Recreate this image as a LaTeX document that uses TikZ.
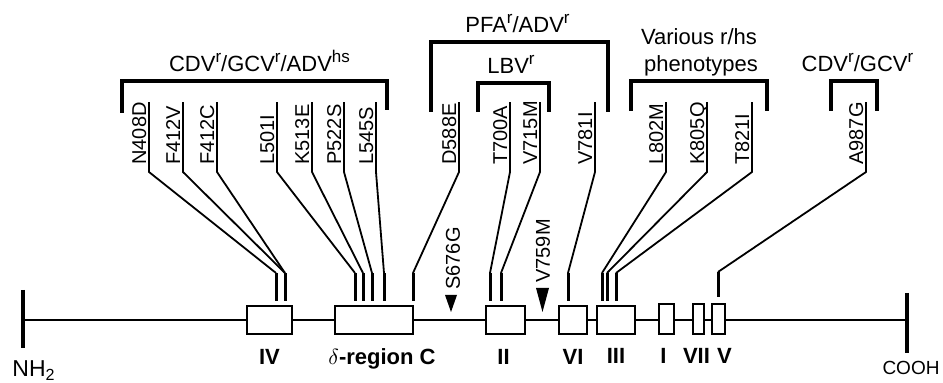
\documentclass[tikz,border=0pt]{standalone}
\usepackage{fontspec}
\setmainfont{Liberation Sans}
\usetikzlibrary{positioning}
\newcommand{\phensup}[1]{\raisebox{.45em}{\fontsize{8.5}{10}\selectfont #1}}
\tikzset{
  mut/.style={
    rotate=90,
    anchor=south west,
    inner xsep=0pt,
    inner ysep=1.2pt,
    text width=31pt,
    align=left,
    text depth=0pt,
    font=\fontsize{10}{12}\selectfont
  },
  tag/.style={
    rotate=90,
    anchor=west,
    inner sep=0pt,
    font=\fontsize{10}{12}\selectfont
  },
  dom/.style={
    draw,
    fill=white,
    line width=.85pt,
    inner sep=0pt,
    minimum height=14pt
  },
  domname/.style={
    inner sep=0pt,
    text height=8pt,
    text depth=2.5pt,
    font=\fontsize{11}{13}\selectfont\bfseries
  },
  grupo/.style={
    anchor=base,
    inner sep=0pt,
    font=\fontsize{11}{13}\selectfont
  },
  bracket/.style={line width=1.7pt},
  link/.style={line width=.9pt},
  stemline/.style={line width=1.5pt, shorten >=2pt},
  backbone/.style={line width=.85pt},
  endbar/.style={line width=1.6pt}
}

\begin{document}
\begin{tikzpicture}[x=.5pt, y=-.5pt]
\useasboundingbox (0,0) rectangle (943,383);

% backbone and termini
\coordinate (nterm) at (23,320);
\coordinate (cterm) at (907,320);
\draw[backbone] (nterm) -- (cterm);
\draw[endbar] ([yshift=15pt]nterm) -- ([yshift=-14pt]nterm);
\draw[endbar] ([yshift=13.5pt]cterm) -- ([yshift=-16.5pt]cterm);
\node[anchor=base, inner sep=0pt, font=\fontsize{11.5}{13}\selectfont] (nh2) at (34,377) {NH\textsubscript{2}};
\node[anchor=base, inner sep=0pt, font=\fontsize{9.5}{11}\selectfont] (cooh) at (911,375) {COOH};

% conserved regions
\node[dom, minimum width=22.5pt] (IV) at (269.5,320) {};
\node[dom, minimum width=39pt] (dreg) at (374,320) {};
\node[dom, minimum width=19.5pt] (II) at (505.5,320) {};
\node[dom, minimum width=14pt] (VI) at (573,320) {};
\node[dom, minimum width=19pt] (III) at (616,320) {};
\node[dom, minimum width=7.5pt, minimum height=15pt] (I) at (666.5,319) {};
\node[dom, minimum width=5.5pt, minimum height=15pt] (VII) at (698.5,319) {};
\node[dom, minimum width=6.5pt, minimum height=15pt] (V) at (718.5,319) {};

\node[domname, below=6.5pt of IV] {IV};
\node[domname, below=6.5pt of dreg, xshift=4pt] {$\delta$-region C};
\node[domname, below=6.5pt of II, xshift=-1pt] {II};
\node[domname, below=6.5pt of VI] {VI};
\node[domname, below=6pt of III] {III};
\node[domname, below=6pt of I, xshift=-1.5pt] {I};
\node[domname, below=6pt of VII, xshift=-1pt] {VII};
\node[domname, below=6pt of V, xshift=3pt] {V};

% stems
\coordinate (s408) at (276,273);
\coordinate (s412) at (285,273);
\coordinate (s501) at (355,273);
\coordinate (s513) at (363,273);
\coordinate (s522) at (372,273);
\coordinate (s545) at (384,273);
\coordinate (s588) at (413,273);
\coordinate (s700) at (490,273);
\coordinate (s715) at (501,273);
\coordinate (s781) at (568,273);
\coordinate (s802) at (602,273);
\coordinate (s805) at (607,273);
\coordinate (s821) at (616,273);
\coordinate (s987) at (718,272);

\draw[stemline] (s408) -- (s408 |- IV.north);
\draw[stemline] (s412) -- (s412 |- IV.north);
\draw[stemline] (s501) -- (s501 |- dreg.north);
\draw[stemline] (s513) -- (s513 |- dreg.north);
\draw[stemline] (s522) -- (s522 |- dreg.north);
\draw[stemline] (s545) -- (s545 |- dreg.north);
\draw[stemline] (s588) -- (s588 |- dreg.north);
\draw[stemline] (s700) -- (s700 |- II.north);
\draw[stemline] (s715) -- (s715 |- II.north);
\draw[stemline] (s781) -- (s781 |- VI.north);
\draw[stemline] (s802) -- (s802 |- III.north);
\draw[stemline] (s805) -- (s805 |- III.north);
\draw[stemline] (s821) -- (s821 |- III.north);
\draw[stemline, shorten >=3pt] (s987) -- (s987 |- V.north);

% mutations
\node[mut] (n408) at (149,165) {N408D};
\node[mut] (n412v) at (183,165) {F412V};
\node[mut] (n412c) at (217,165) {F412C};
\node[mut] (n501) at (277,165) {L501I};
\node[mut] (n513) at (312,165) {K513E};
\node[mut] (n522) at (344,165) {P522S};
\node[mut] (n545) at (376,165) {L545S};
\node[mut] (n588) at (459,165) {D588E};
\node[mut] (n700) at (510,165) {T700A};
\node[mut] (n715) at (540,165) {V715M};
\node[mut] (n781) at (595,165) {V781I};
\node[mut] (n802) at (666,165) {L802M};
\node[mut] (n805) at (707,165) {K805Q};
\node[mut] (n821) at (752,165) {T821I};
\node[mut] (n987) at (866,165) {A987G};

\draw[link] (n408.south east) -- ([yshift=-3.5pt]n408.south west) -- (s408);
\draw[link] (n412v.south east) -- ([yshift=-3.5pt]n412v.south west) -- (s412);
\draw[link] (n412c.south east) -- ([yshift=-3.5pt]n412c.south west) -- (s412);
\draw[link] (n501.south east) -- ([yshift=-3.5pt]n501.south west) -- (s501);
\draw[link] (n513.south east) -- ([yshift=-3.5pt]n513.south west) -- (s513);
\draw[link] (n522.south east) -- ([yshift=-3.5pt]n522.south west) -- (s522);
\draw[link] (n545.south east) -- ([yshift=-3.5pt]n545.south west) -- (s545);
\draw[link] (n588.south east) -- ([yshift=-3.5pt]n588.south west) -- (s588);
\draw[link] (n700.south east) -- ([yshift=-3.5pt]n700.south west) -- (s700);
\draw[link] (n715.south east) -- ([yshift=-3.5pt]n715.south west) -- (s715);
\draw[link] (n781.south east) -- ([yshift=-3.5pt]n781.south west) -- (s781);
\draw[link] (n802.south east) -- ([yshift=-3.5pt]n802.south west) -- (s802);
\draw[link] (n805.south east) -- ([yshift=-3.5pt]n805.south west) -- (s805);
\draw[link] (n821.south east) -- ([yshift=-3.5pt]n821.south west) -- (s821);
\draw[link] (n987.south east) -- ([yshift=-3.5pt]n987.south west) -- (s987);

% point mutations outside regions
\node[tag] (s676) at (453,290) {S676G};
\fill (445,295) -- (457,295) -- (451,312) -- cycle;
\node[tag] (v759) at (543,283) {V759M};
\fill (536,288) -- (549,288) -- (542.5,312) -- cycle;

% phenotype groups
\draw[bracket] (122,113) |- (387,81) -- (387,110);
\node[grupo] (g1) at (259.5,72) {CDV\phensup{r}/GCV\phensup{r}/ADV\phensup{hs}};
\draw[bracket] (431,112) |- (608,42) -- (608,112);
\node[grupo] (g2) at (517.5,33) {PFA\phensup{r}/ADV\phensup{r}};
\draw[bracket] (478,112) |- (549,83) -- (549,112);
\node[grupo] (g3) at (511,74) {LBV\phensup{r}};
\draw[bracket] (631,111) |- (767,81) -- (767,111);
\node[grupo] (g4) at (699,45) {Various r/hs};
\node[grupo] (g4b) at (701,72) {phenotypes};
\draw[bracket] (831,111) |- (877,81) -- (877,111);
\node[grupo] (g5) at (857.5,72) {CDV\phensup{r}/GCV\phensup{r}};
\end{tikzpicture}
\end{document}
